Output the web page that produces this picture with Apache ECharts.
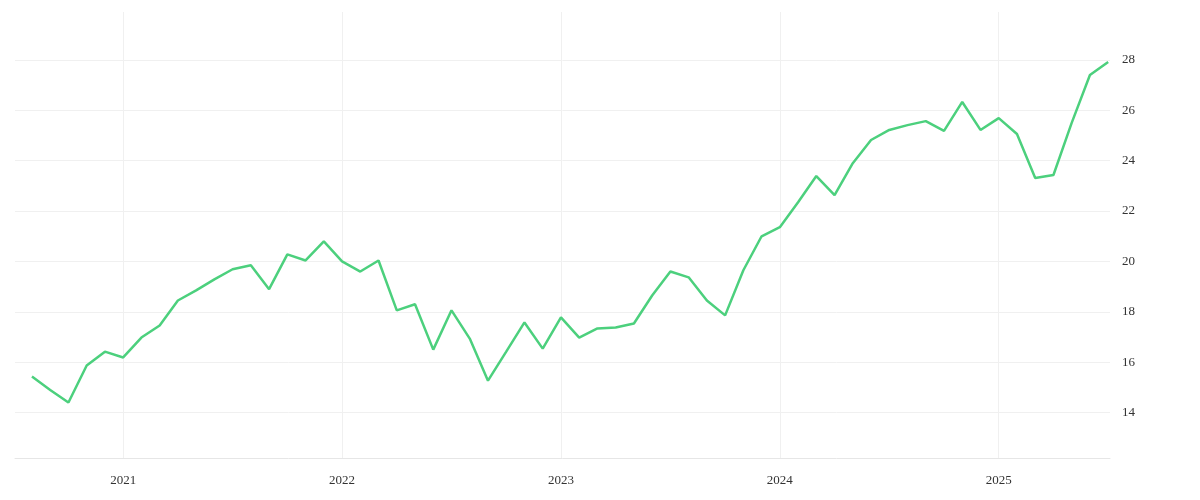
<!DOCTYPE html>
<html><head><meta charset="utf-8">
<script src="https://cdn.jsdelivr.net/npm/echarts@6/dist/echarts.min.js"></script>
<style>html,body{margin:0;padding:0;background:#fff}#c{width:1200px;height:500px}</style>
</head><body><div id="c"></div>
<script>
// month index: 0 = Jan 2020
const monthIndex = [];
for (let i = 7; i <= 66; i++) monthIndex.push(i);
const values = [15.43,14.9,14.4,15.87,16.42,16.19,16.98,17.46,18.45,18.85,19.29,19.69,19.85,18.9,20.28,20.04,20.8,20.0,19.6,20.04,18.06,18.3,16.5,18.06,16.94,15.27,16.42,17.58,16.54,17.78,16.98,17.34,17.38,17.54,18.65,19.6,19.37,18.45,17.86,19.65,21.0,21.36,22.35,23.39,22.63,23.9,24.82,25.22,25.41,25.57,25.18,26.33,25.22,25.69,25.06,23.31,23.43,25.5,27.4,27.92];
const yearTicks = [12,24,36,48,60];
const yearLabels = ['2021','2022','2023','2024','2025'];
const yTicks = [14,16,18,20,22,24,26,28];
const data = monthIndex.map((m,i)=>[m,values[i]]);
const chart = echarts.init(document.getElementById('c'));
chart.setOption({
  animation:false,
  grid:{left:15,right:90,top:12,bottom:42},
  xAxis:{type:'value',min:6.07,max:66.1,
    axisLine:{show:true,lineStyle:{color:'#e6e6e6'}},
    axisTick:{show:false,customValues:yearTicks},
    axisLabel:{customValues:yearTicks,formatter:v=>yearLabels[yearTicks.indexOf(v)]||'',color:'#333',fontFamily:'Liberation Serif',fontSize:13,margin:16},
    splitLine:{show:true,lineStyle:{color:'#f0f0f0'}}},
  yAxis:{type:'value',position:'right',min:12.2,max:29.9,
    axisLine:{show:false},axisTick:{show:false,customValues:yTicks},
    axisLabel:{customValues:yTicks,color:'#333',fontFamily:'Liberation Serif',fontSize:13,margin:12},
    splitLine:{show:true,lineStyle:{color:'#f0f0f0'}}},
  series:[{type:'line',data:data,showSymbol:false,lineStyle:{color:'#4cd07d',width:2.5},itemStyle:{color:'#4cd07d'}}]
});
</script></body></html>
